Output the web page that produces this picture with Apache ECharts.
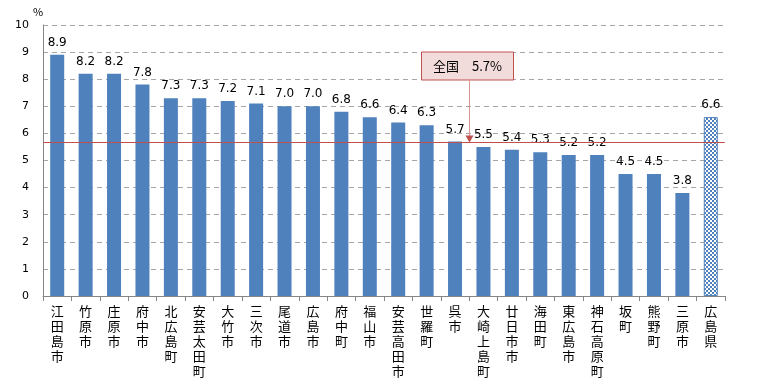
<!DOCTYPE html>
<html><head><meta charset="utf-8">
<script src="https://cdn.jsdelivr.net/npm/echarts@6/dist/echarts.min.js"></script>
<style>html,body{margin:0;padding:0;background:#fff}#c{width:757px;height:379px}</style>
</head><body><div id="c"></div>
<script>
const categories = ['江田島市','竹原市','庄原市','府中市','北広島町','安芸太田町','大竹市','三次市','尾道市','広島市','府中町','福山市','安芸高田市','世羅町','呉市','大崎上島町','廿日市市','海田町','東広島市','神石高原町','坂町','熊野町','三原市','広島県'];
const values = [8.9,8.2,8.2,7.8,7.3,7.3,7.2,7.1,7.0,7.0,6.8,6.6,6.4,6.3,5.7,5.5,5.4,5.3,5.2,5.2,4.5,4.5,3.8,6.6];
const yTicks = [0,1,2,3,4,5,6,7,8,9,10];
const nationalValue = 5.7;
const nationalLabel = '全国　5.7%';

const font = '"Noto Sans CJK JP", sans-serif';
const pc = document.createElement('canvas');
pc.width = 4; pc.height = 4;
const g = pc.getContext('2d');
g.fillStyle = '#ffffff'; g.fillRect(0,0,4,4);
g.fillStyle = '#4f81bd';
g.fillRect(0,0,2,2); g.fillRect(2,2,2,2);

const data = values.map((v,i) => i === values.length-1
  ? {value:v, itemStyle:{color:{image:pc, repeat:'repeat'}, borderColor:'#4f81bd', borderWidth:1}}
  : v);

const chart = echarts.init(document.getElementById('c'));
chart.setOption({
  animation:false,
  grid:{left:43,right:32,top:25,bottom:82},
  xAxis:{type:'category',data:categories,
    axisLine:{lineStyle:{color:'#868686'}},
    axisTick:{show:true,length:5,lineStyle:{color:'#868686'}},
    axisLabel:{interval:0,color:'#000',fontFamily:font,fontSize:13,lineHeight:15,margin:8,
      formatter:v=>v.split('').join('\n'), verticalAlign:'top'}},
  yAxis:{type:'value',min:0,max:10,interval:1,name:'%',
    nameLocation:'end',nameGap:8,nameTextStyle:{color:'#000',fontSize:11,fontFamily:font,padding:[0,10,0,0]},
    axisLine:{show:true,lineStyle:{color:'#868686'}},
    axisTick:{show:false},
    axisLabel:{color:'#000',fontSize:11,fontFamily:'"DejaVu Sans", sans-serif',margin:14,
      formatter:v=>yTicks.includes(v)?String(v):''},
    splitLine:{lineStyle:{color:'#a6a6a6',type:[5,4]}}},
  series:[{type:'bar',data:data,barWidth:14,itemStyle:{color:'#4f81bd'},
    label:{show:true,position:'top',distance:6,color:'#000',fontSize:12,fontFamily:'"DejaVu Sans", sans-serif',
      formatter:p=>p.value.toFixed(1)}}]
});

const x14 = chart.convertToPixel({xAxisIndex:0}, categories[14]);
const x15 = chart.convertToPixel({xAxisIndex:0}, categories[15]);
const xL = chart.convertToPixel({xAxisIndex:0}, categories[0]) - 14;
const xR = chart.convertToPixel({xAxisIndex:0}, categories[categories.length-1]) + 14;
const ax = Math.round((x14+x15)/2) + 0.5;
const ay = Math.round(chart.convertToPixel({yAxisIndex:0}, nationalValue)) + 0.5;
const boxW = 92, boxH = 28, boxTop = 52;
chart.setOption({graphic:[
  {type:'line',z:100,shape:{x1:xL,y1:ay,x2:xR,y2:ay},style:{stroke:'#c0504d',lineWidth:1}},
  {type:'rect',shape:{x:ax-48,y:boxTop,width:boxW,height:boxH},style:{fill:'#f2dcdb',stroke:'#c0504d',lineWidth:1}},
  {type:'text',style:{x:ax-48+boxW/2,y:boxTop+boxH/2,text:nationalLabel,fill:'#000',font:'13px '+font,align:'center',verticalAlign:'middle'}},
  {type:'line',shape:{x1:ax,y1:boxTop+boxH,x2:ax,y2:ay-1},style:{stroke:'#d99694',lineWidth:1}},
  {type:'polygon',z:101,shape:{points:[[ax-4,ay-7],[ax+4,ay-7],[ax,ay]]},style:{fill:'#c0504d'}}
]});
</script></body></html>
